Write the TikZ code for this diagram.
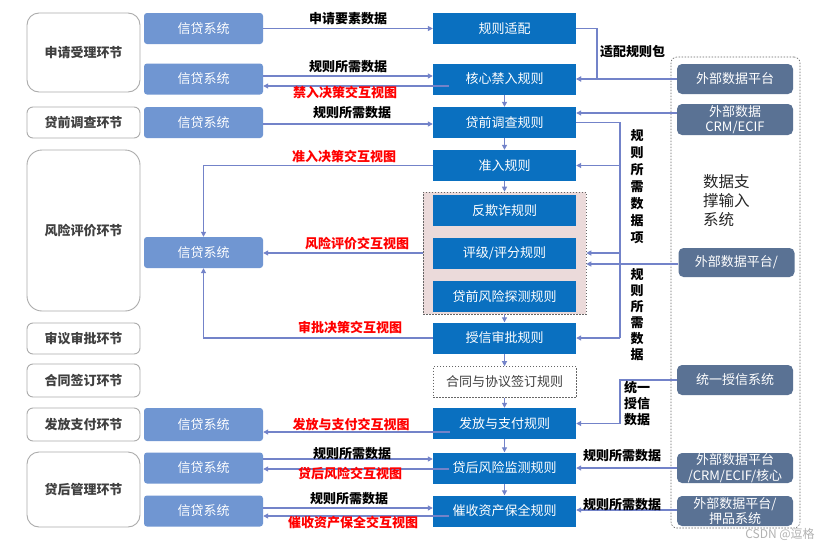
\documentclass[tikz,border=0pt]{standalone}
\usepackage{fontspec}
\setmainfont{Noto Sans CJK SC}
\usetikzlibrary{arrows.meta,calc}
\definecolor{xdblue}{HTML}{7096D2}
\definecolor{ruleblue}{HTML}{0A70C0}
\definecolor{extblue}{HTML}{5A7294}
\definecolor{lnc}{HTML}{7383C9}
\definecolor{stagetxt}{HTML}{404040}
\definecolor{grpfill}{HTML}{EBDADA}
\begin{document}
\begin{tikzpicture}[x=1pt,y=-1pt,
 every node/.style={font=\fontsize{13}{15}\selectfont, inner sep=0pt},
 stagebox/.style={draw=gray!65, line width=0.9pt, rounded corners=6pt, fill=white, text=stagetxt, font=\fontsize{13}{15}\selectfont\bfseries, minimum width=113pt},
 xdbox/.style={fill=xdblue, text=white, rounded corners=3pt, minimum width=119pt, minimum height=31pt},
 rulebox/.style={fill=ruleblue, text=white, minimum width=143pt, minimum height=31pt},
 extbox/.style={fill=extblue, text=white, rounded corners=5pt, minimum width=116pt, minimum height=30pt, align=center, font=\fontsize{13}{15.5}\selectfont},
 dotbox/.style={draw=black!60, line width=0.6pt, dash pattern=on 1.5pt off 1.5pt},
 ln/.style={draw=lnc, line width=1.1pt},
 arr/.style={ln, -{Triangle[length=5pt,width=5pt]}},
 lbl/.style={font=\fontsize{13}{15}\selectfont\bfseries, text=black},
 rlbl/.style={font=\fontsize{13}{15}\selectfont\bfseries, text=red},
 vlbl/.style={font=\fontsize{13}{17}\selectfont\bfseries, text=black, align=center},
]
\useasboundingbox[fill=white] (0,0) rectangle (830,549);

% stage boxes
\node[stagebox, rounded corners=12pt, minimum height=79pt] (s1) at (83.5,52.5) {申请受理环节};
\node[stagebox, minimum height=31pt] (s2) at (83.5,122.5) {贷前调查环节};
\node[stagebox, rounded corners=15pt, minimum height=161pt] (s3) at (83.5,230.5) {风险评价环节};
\node[stagebox, minimum height=31pt] (s4) at (83.5,338.5) {审议审批环节};
\node[stagebox, minimum height=33pt] (s5) at (83.5,380.5) {合同签订环节};
\node[stagebox, minimum height=33pt] (s6) at (83.5,424.5) {发放支付环节};
\node[stagebox, rounded corners=12pt, minimum height=75pt] (s7) at (83.5,489.5) {贷后管理环节};

% credit system boxes
\node[xdbox] (x1) at (203.5,28.5) {信贷系统};
\node[xdbox] (x2) at (203.5,79) {信贷系统};
\node[xdbox] (x3) at (203.5,122.5) {信贷系统};
\node[xdbox] (x4) at (203.5,252.5) {信贷系统};
\node[xdbox, minimum height=33pt] (x5) at (203.5,424.5) {信贷系统};
\node[xdbox] (x6) at (203.5,468) {信贷系统};
\node[xdbox] (x7) at (203.5,511) {信贷系统};

% rule boxes
\node[rulebox] (r1) at (504.5,28.5) {规则适配};
\node[rulebox] (r2) at (504.5,79) {核心禁入规则};
\node[rulebox] (r3) at (504.5,122.5) {贷前调查规则};
\node[rulebox] (r4) at (504.5,165.5) {准入规则};
\node[dotbox, fill=grpfill, minimum width=163pt, minimum height=122pt] (grp) at (504.5,253) {};
\node[rulebox] (r5) at (504.5,210.5) {反欺诈规则};
\node[rulebox] (r6) at (504.5,253) {评级/评分规则};
\node[rulebox] (r7) at (504.5,296.5) {贷前风险探测规则};
\node[rulebox] (r8) at (504.5,338) {授信审批规则};
\node[rulebox, dotbox, fill=white, text=stagetxt] (r9) at (504.5,382) {合同与协议签订规则};
\node[rulebox] (r10) at (504.5,423.5) {发放与支付规则};
\node[rulebox] (r11) at (504.5,468) {贷后风险监测规则};
\node[rulebox] (r12) at (504.5,511) {催收资产保全规则};

% external group
\node[dotbox, rounded corners=6pt, minimum width=129pt, minimum height=471pt] (egrp) at (735.5,292.5) {};
\node[extbox] (e1) at (735,79) {外部数据平台};
\node[extbox, minimum height=31pt] (e2) at (735,119.5) {外部数据\\CRM/ECIF};
\node[extbox, minimum height=29pt] (e3) at (736.5,262.5) {外部数据平台/};
\node[extbox] (e4) at (735,380) {统一授信系统};
\node[extbox] (e5) at (735,468) {外部数据平台\\/CRM/ECIF/核心};
\node[extbox] (e6) at (735,511) {外部数据平台/\\押品系统};
\node[anchor=west, align=left, font=\fontsize{15.5}{19}\selectfont, text=black!85] (dtxt) at (703,200.5) {数据支\\撑输入\\系统};

% vertical flow arrows
\draw[arr] (r2) -- (r3);
\draw[arr] (r3) -- (r4);
\draw[arr] (r4) -- (grp);
\draw[arr] (grp) -- (r8);
\draw[arr] (r8) -- (r9);
\draw[arr] (r9) -- (r10);
\draw[arr] (r10) -- (r11);
\draw[arr] (r11) -- (r12);

% application
\draw[arr] (x1) -- (r1);
\node[lbl] (l1) at (348,19) {申请要素数据};
\coordinate (tp) at (597,52);
\draw[arr] (r1.east) -| (tp) |- (r2.east);
\node[lbl, anchor=west] (l2) at (600,52) {适配规则包};
\draw[arr] (e1) -- (r2);
\draw[arr] ($(x2.east)+(0,-3)$) -- ($(r2.west)+(0,-3)$);
\node[lbl] (l3) at (348,67) {规则所需数据};
\draw[arr] ($(r2.west)+(16,7)$) -- ($(x2.east)+(0,7)$);
\node[rlbl] (l4) at (345,92) {禁入决策交互视图};

% pre-loan investigation
\draw[arr] ($(x3.east)+(0,1.5)$) -- ($(r3.west)+(0,1.5)$);
\node[lbl] (l5) at (352,113) {规则所需数据};
\draw[arr] ($(e2.west)+(0,-6.5)$) -- ($(r3.east)+(0,-9.5)$);

% bus
\coordinate (bus) at (620,122.5);
\draw[ln] (r3.east) -- (bus) -- (bus |- r8.east);
\draw[arr] (bus |- r4.east) -- (r4.east);
\draw[arr] (bus |- grp.east) -- (grp.east);
\draw[arr] (bus |- r8.east) -- (r8.east);
\draw[arr] (e4.west) -- (e4.west -| bus) |- (r10.east);
\draw[arr] ($(e3.west)+(0,1.5)$) -- ($(grp.east)+(0,11)$);
\node[vlbl] (v1) at (637,186.5) {规\\则\\所\\需\\数\\据\\项};
\node[vlbl, font=\fontsize{13}{16}\selectfont\bfseries] (v2) at (637,315) {规\\则\\所\\需\\数\\据};
\node[vlbl, align=left, anchor=west, font=\fontsize{13}{16}\selectfont\bfseries] (v3) at (624,404) {统一\\授信\\数据};

% risk evaluation
\draw[arr] (r4.west) -| (x4.north);
\node[rlbl] (l6) at (344,156) {准入决策交互视图};
\draw[arr] (grp.west) -- (grp.west -| x4.east);
\node[rlbl] (l7) at (357,244) {风险评价交互视图};
\draw[arr] (r8.west) -| (x4.south);
\node[rlbl] (l8) at (350,327) {审批决策交互视图};

% disbursement
\draw[arr] ($(r10.west)+(17,8.5)$) -- ($(x5.east)+(0,7.5)$);
\node[rlbl] (l9) at (351,424) {发放与支付交互视图};

% post-loan
\draw[arr] ($(x6.east)+(0,-9)$) -- ($(r11.west)+(0,-9)$);
\node[lbl] (l10) at (352,454) {规则所需数据};
\draw[arr] ($(r11.west)+(16,1)$) -- ($(x6.east)+(0,1)$);
\node[rlbl] (l11) at (350,474) {贷后风险交互视图};
\draw[arr] (e5) -- (r11);
\node[lbl] (l12) at (622,456) {规则所需数据};

\draw[arr] ($(x7.east)+(0,-3)$) -- ($(r12.west)+(0,-3)$);
\node[lbl] (l13) at (349,499) {规则所需数据};
\draw[arr] ($(r12.west)+(16,5)$) -- ($(x7.east)+(0,5)$);
\node[rlbl] (l14) at (353,523) {催收资产保全交互视图};
\draw[arr] ($(e6.west)+(0,-1)$) -- ($(r12.east)+(0,-1)$);
\node[lbl] (l15) at (622,505) {规则所需数据};

\node[text=gray!60, font=\fontsize{12}{14}\selectfont] (wm) at (780,534) {CSDN @逗格};
\end{tikzpicture}
\end{document}
